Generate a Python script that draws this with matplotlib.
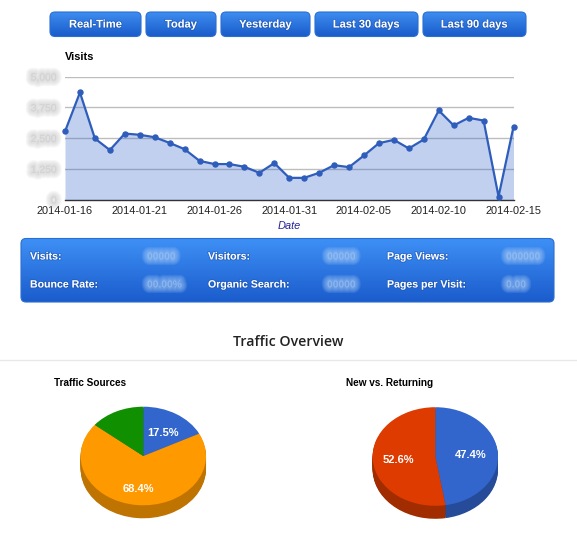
import matplotlib
matplotlib.use("Agg")
import matplotlib.pyplot as plt
import matplotlib.patheffects as pe
from matplotlib.patches import FancyBboxPatch
import numpy as np

W, H = 577, 545
SANS = ["Liberation Sans", "DejaVu Sans"]

dates = ["2014-01-16", "2014-01-21", "2014-01-26", "2014-01-31",
         "2014-02-05", "2014-02-10", "2014-02-15"]
visits = [2765, 4350, 2480, 2010, 2680, 2630, 2530, 2300, 2045, 1570, 1440,
          1440, 1330, 1085, 1480, 880, 880, 1085, 1395, 1315, 1790, 2290,
          2425, 2075, 2440, 3620, 3010, 3320, 3210, 120, 2955]
y_ticks = [0, 1250, 2500, 3750, 5000]
y_labels = ["0", "1,250", "2,500", "3,750", "5,000"]

buttons = ["Real-Time", "Today", "Yesterday", "Last 30 days", "Last 90 days"]
stat_labels = [["Visits:", "Visitors:", "Page Views:"],
               ["Bounce Rate:", "Organic Search:", "Pages per Visit:"]]
stat_values = [["00000", "00000", "000000"], ["00.00%", "00000", "0.00"]]

sources = [17.5, 68.4, 14.1]
source_colors = ["#3366CC", "#FF9900", "#109000"]
source_dark = ["#264C99", "#BF7300", "#0C7012"]
source_text = [(162.5, 432.5), (138, 488.5), None]

visitors = [47.4, 52.6]
visitor_colors = ["#3366CC", "#DD3B00"]
visitor_dark = ["#264C99", "#A02C00"]
visitor_text = [(471, 455), (398, 460), None]


def rect(x0, y0, x1, y1):
    return [x0 / W, 1 - y1 / H, (x1 - x0) / W, (y1 - y0) / H]


def blur(color, strength):
    return [pe.Stroke(linewidth=w, foreground=color, alpha=strength)
            for w in (8, 6.5, 5, 3.5, 2)]


fig = plt.figure(figsize=(W / 100, H / 100), dpi=100, facecolor="white")

bg = fig.add_axes([0, 0, 1, 1])
bg.set_xlim(0, W)
bg.set_ylim(H, 0)
bg.axis("off")


def gradient_box(x0, y0, x1, y1, top, bottom, radius, edge):
    c0 = np.array(matplotlib.colors.to_rgb(top))
    c1 = np.array(matplotlib.colors.to_rgb(bottom))
    t = np.linspace(0, 1, 64)[:, None, None]
    img = c0[None, None, :] * (1 - t) + c1[None, None, :] * t
    patch = FancyBboxPatch((x0 + radius, y0 + radius), x1 - x0 - 2 * radius,
                           y1 - y0 - 2 * radius,
                           boxstyle=f"round,pad={radius},rounding_size={radius}",
                           fc="none", ec=edge, lw=0.8, zorder=3)
    bg.add_patch(patch)
    im = bg.imshow(img, extent=(x0, x1, y1, y0), aspect="auto", zorder=2)
    im.set_clip_path(patch)


button_px = [(50, 141), (146, 216), (221, 310), (315, 418), (423, 526)]
shadow = [pe.withStroke(linewidth=1.2, foreground="#1a4fa8", alpha=0.55)]
for name, (x0, x1) in zip(buttons, button_px):
    gradient_box(x0, 12, x1, 36.5, "#3F8FF2", "#1A5CCB", 5, "#2A6FD2")
    bg.text((x0 + x1) / 2, 24.5, name, ha="center", va="center", color="white",
            family=SANS, weight="bold", fontsize=8.0, path_effects=shadow,
            zorder=4)

gradient_box(21, 238.5, 554, 302, "#3E90F6", "#1B5CCC", 5, "#2A6FD2")
col_x = [30, 208, 387]
val_x = [145, 325, 504]
row_y = [256.5, 284.5]
for r, y in enumerate(row_y):
    for c, x in enumerate(col_x):
        bg.text(x, y, stat_labels[r][c], ha="left", va="center", color="white",
                family=SANS, weight="bold", fontsize=7.6, path_effects=shadow,
                zorder=4)
        bg.text(val_x[c] + 2, y, stat_values[r][c], ha="left", va="center",
                color="#A9CCF7", family=SANS, weight="bold", fontsize=7.4,
                path_effects=blur("#A9CCF7", 0.14), zorder=4)

bg.text(288, 342, "Traffic Overview", ha="center", va="center", color="#222222",
        family=["Open Sans", "DejaVu Sans"], weight="semibold", fontsize=10.2)
bg.plot([0, W], [359.5, 359.5], color="#E8E8E8", lw=1)

bg.text(65, 57.5, "Visits", ha="left", va="center", color="black", family=SANS,
        weight="bold", fontsize=7.9)
bg.text(54, 383, "Traffic Sources", ha="left", va="center", color="black",
        family=SANS, weight="bold", fontsize=7.2)
bg.text(346, 383, "New vs. Returning", ha="left", va="center", color="black",
        family=SANS, weight="bold", fontsize=7.2)

ax = fig.add_axes(rect(65, 76.5, 513.5, 199.5))
ax.patch.set_alpha(0)
x = np.arange(len(visits))
ax.set_xlim(0, len(visits) - 1)
ax.set_ylim(0, 5000)
ax.fill_between(x, visits, 0, color="#3366CC", alpha=0.30, lw=0, zorder=3)
ax.plot(x, visits, color="#2F5DBB", lw=1.6, marker="o", ms=3.6, clip_on=False,
        zorder=4)
ax.set_yticks(y_ticks, y_labels)
ax.set_xticks(x[::5], dates)
ax.grid(axis="y", color="#BDBDBD", lw=1, zorder=1)
ax.set_axisbelow(True)
for side in ("top", "right", "left"):
    ax.spines[side].set_visible(False)
ax.spines["bottom"].set_color("#333333")
ax.spines["bottom"].set_linewidth(1)
ax.tick_params(axis="both", length=0)
ax.tick_params(axis="x", pad=5)
ax.tick_params(axis="y", pad=6)
for t in ax.get_xticklabels():
    t.set_family(SANS)
    t.set_fontsize(7.9)
    t.set_color("#222222")
for t in ax.get_yticklabels():
    t.set_family(SANS)
    t.set_fontsize(7.4)
    t.set_color("#C8C8C8")
    t.set_path_effects(blur("#C8C8C8", 0.14))
ax.set_xlabel("Date", family=SANS, style="italic", fontsize=7.9,
              color="#222299", labelpad=3)


def pie(cx, cy, values, colors, dark, labels):
    rx, ry, depth = 62.7, 49.3, 13
    a = fig.add_axes(rect(cx - rx - 2, cy - ry - 2, cx + rx + 2,
                          cy + ry + depth + 2))
    a.axis("off")
    for d in np.arange(depth, 0, -1.0):
        a.pie(values, colors=dark, startangle=90, counterclock=False,
              radius=rx, center=(0, -d * rx / ry), frame=True,
              wedgeprops=dict(lw=0))
    a.pie(values, colors=colors, startangle=90, counterclock=False, radius=rx,
          center=(0, 0), frame=True, wedgeprops=dict(lw=0))
    a.set_aspect("auto")
    a.set_xlim(-rx - 2, rx + 2)
    a.set_ylim(-(ry + depth + 2) * rx / ry, (ry + 2) * rx / ry)
    a.axis("off")
    for v, pos in zip(values, labels):
        if pos is not None:
            bg.text(pos[0], pos[1], f"{v:.1f}%", ha="center", va="center",
                    color="white", family=SANS, weight="bold", fontsize=8.0,
                    zorder=10)


pie(143.3, 456, sources, source_colors, source_dark, source_text)
pie(435.3, 456.5, visitors, visitor_colors, visitor_dark, visitor_text)
bg.set_zorder(5)
bg.patch.set_alpha(0)
ax.set_zorder(6)

fig.savefig("out.png", dpi=100, facecolor="white")
